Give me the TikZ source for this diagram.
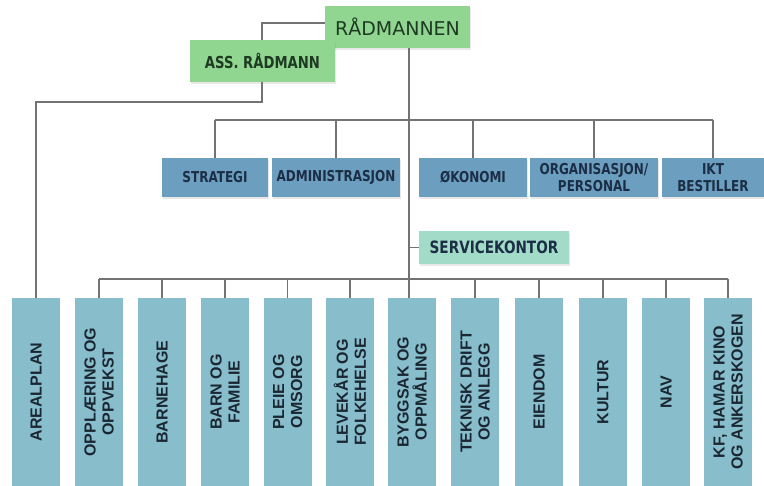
\documentclass[tikz,border=0pt]{standalone}
\usepackage{fontspec}
\usetikzlibrary{shadows}
\setmainfont{Liberation Sans}
\newfontfamily\headfont{DejaVu Sans}
\newfontfamily\narrowfont[FakeStretch=0.8]{DejaVu Sans}

\definecolor{leadgreen}{HTML}{90D690}
\definecolor{staffblue}{HTML}{6C9EC0}
\definecolor{servicegreen}{HTML}{A2DCC8}
\definecolor{unitblue}{HTML}{88BDCB}
\definecolor{linegray}{HTML}{737373}
\definecolor{greentext}{HTML}{1E3A22}
\definecolor{bluetext}{HTML}{1C2E46}
\definecolor{unittext}{HTML}{1A2733}

\tikzset{
  x=1pt, y=-1pt,
  conn/.style={draw=linegray, line width=1.1pt},
  softshadow/.style={drop shadow={opacity=0.18, shadow xshift=1pt, shadow yshift=-2pt}},
  leadbox/.style={fill=leadgreen, softshadow, inner sep=0pt, text=greentext},
  staffbox/.style={fill=staffblue, softshadow, inner sep=0pt, minimum height=39pt,
    text=bluetext, align=center, font=\narrowfont\bfseries\fontsize{15}{17.5}\selectfont},
  servicebox/.style={fill=servicegreen, softshadow, inner sep=0pt, minimum width=150pt,
    minimum height=33pt, text=bluetext, font=\narrowfont\bfseries\fontsize{17}{19}\selectfont},
  unitbox/.style={fill=unitblue, inner sep=0pt, minimum width=48pt, minimum height=188pt},
  unitlabel/.style={rotate=90, align=center, text=unittext,
    font=\bfseries\fontsize{16}{18}\selectfont}
}

\begin{document}
\begin{tikzpicture}
\useasboundingbox (0,0) rectangle (764,486);

% reference points for the connector routes
\coordinate (trunk) at (409,0);
\coordinate (bendA) at (262,23);
\coordinate (bendB) at (36,102);
\coordinate (staffbus) at (0,120);
\coordinate (unitbus) at (0,279);

% department columns
\foreach \name/\cx/\txt in {
    areal/36/AREALPLAN,
    opp/99/OPPLÆRING OG\\OPPVEKST,
    bhg/162/BARNEHAGE,
    barn/225/BARN OG\\FAMILIE,
    pleie/287.5/PLEIE OG\\OMSORG,
    lev/350/LEVEKÅR OG\\FOLKEHELSE,
    byg/412/BYGGSAK OG\\OPPMÅLING,
    tek/475/TEKNISK DRIFT\\OG ANLEGG,
    eien/539/EIENDOM,
    kult/603/KULTUR,
    nav/666/NAV,
    kf/728/{KF, HAMAR KINO\\OG ANKERSKOGEN}} {
  \node[unitbox] (\name) at (\cx,392) {};
  \node[unitlabel] (\name-t) at (\name) {\txt};
}

% staff units
\node[staffbox, minimum width=106pt] (strat) at (215,177.5) {STRATEGI};
\node[staffbox, minimum width=128pt] (adm)   at (336,177.5) {ADMINISTRASJON};
\node[staffbox, minimum width=108pt] (oko)   at (473,177.5) {ØKONOMI};
\node[staffbox, minimum width=128pt] (org)   at (594,177.5) {ORGANISASJON/\\PERSONAL};
\node[staffbox, minimum width=102pt] (ikt)   at (713,177.5) {IKT\\BESTILLER};

% service office
\node[servicebox] (serv) at (494,247.5) {SERVICEKONTOR};

% connectors
\draw[conn] (bendA -| 325,0) -- (bendA) -- (bendA |- bendB) -- (bendB) -- (areal.north);
\draw[conn] (trunk |- 0,48) -- (trunk |- byg.north);
\draw[conn] (staffbus -| strat.north) -- (staffbus -| ikt.north);
\foreach \n in {strat,adm,oko,org,ikt}
  \draw[conn] (staffbus -| \n.north) -- (\n.north);
\draw[conn] (trunk |- serv.west) -- (serv.west);
\draw[conn] (unitbus -| opp.north) -- (unitbus -| kf.north);
\foreach \n in {opp,bhg,barn,pleie,lev,tek,eien,kult,nav,kf}
  \draw[conn] (unitbus -| \n.north) -- (\n.north);

% management
\node[leadbox, minimum width=145pt, minimum height=42pt,
      font=\headfont\fontsize{19}{21}\selectfont] (rad) at (397.5,27) {RÅDMANNEN};
\node[leadbox, minimum width=145pt, minimum height=42pt,
      font=\narrowfont\bfseries\fontsize{16.5}{18}\selectfont] (ass) at (262.5,61) {ASS. RÅDMANN};
\end{tikzpicture}
\end{document}
